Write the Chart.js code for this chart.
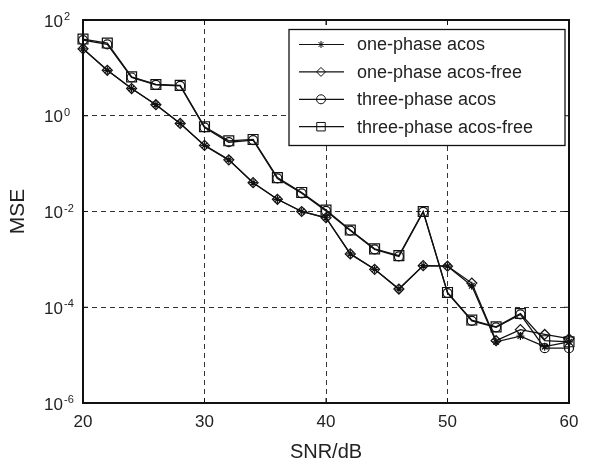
<!DOCTYPE html>
<html>
<head>
<meta charset="utf-8">
<script src="https://cdn.jsdelivr.net/npm/chart.js@4.4.1/dist/chart.umd.min.js"></script>
<style>
  html, body { margin: 0; padding: 0; background: #fff; }
  #wrap { width: 589px; height: 466px; }
</style>
</head>
<body>
<div id="wrap"><canvas id="mseChart" width="589" height="466"></canvas></div>
<script>
// SNR (dB) on the x axis
const snr = [20, 22, 24, 26, 28, 30, 32, 34, 36, 38, 40, 42, 44, 46, 48, 50, 52, 54, 56, 58, 60];

// MSE values
const onePhaseAcos = [25, 8.9, 3.7, 1.7, 0.69, 0.24, 0.12, 0.040, 0.018, 0.0100, 0.0074, 0.0013, 0.00062, 0.00024, 0.00074, 0.00072, 0.00028, 1.9e-5, 2.5e-5, 1.5e-5, 1.9e-5];
const onePhaseAcosFree = [25, 8.9, 3.7, 1.7, 0.69, 0.24, 0.12, 0.040, 0.018, 0.0100, 0.0074, 0.0013, 0.00062, 0.00024, 0.00074, 0.00072, 0.00032, 2.0e-5, 3.4e-5, 2.7e-5, 2.2e-5];
const threePhaseAcos = [38, 31, 6.3, 4.4, 4.2, 0.57, 0.28, 0.31, 0.049, 0.024, 0.0103, 0.0040, 0.00162, 0.00115, 0.0098, 0.000198, 5.2e-5, 3.8e-5, 7.1e-5, 1.4e-5, 1.4e-5];
const threePhaseAcosFree = [40, 33, 6.5, 4.5, 4.3, 0.59, 0.30, 0.32, 0.051, 0.025, 0.0107, 0.0041, 0.00166, 0.0012, 0.0100, 0.000204, 5.4e-5, 3.9e-5, 7.4e-5, 2.0e-5, 1.9e-5];

// y ticks (decades) and their exponents
const yTicks = [1e-6, 1e-4, 1e-2, 1, 1e2];
const yTickExp = ['-6', '-4', '-2', '0', '2'];

const FONT = '"Liberation Sans", Arial, Helvetica, sans-serif';
const INK = '#111';

function series(label, values, style, radius) {
    return {
        label: label,
        data: snr.map((x, i) => ({ x: x, y: values[i] })),
        borderColor: INK,
        borderWidth: 1.3,
        backgroundColor: 'rgba(0,0,0,0)',
        pointStyle: style,
        pointRadius: radius,
        pointBorderColor: INK,
        pointBorderWidth: 1.2,
        pointBackgroundColor: 'rgba(0,0,0,0)',
        tension: 0,
        fill: false,
        clip: false
    };
}

const datasets = [
    series('one-phase acos', onePhaseAcos, 'star', 4),
    series('one-phase acos-free', onePhaseAcosFree, 'rectRot', 5),
    series('three-phase acos', threePhaseAcos, 'circle', 4.5),
    series('three-phase acos-free', threePhaseAcosFree, 'rect', 7)
];

// frame, inward ticks, y labels with superscripts, legend box
const decorPlugin = {
    id: 'decor',
    beforeDatasetsDraw(chart) {
        const ctx = chart.ctx;
        const a = chart.chartArea;
        const xs = chart.scales.x;
        const ys = chart.scales.y;

        ctx.save();
        ctx.strokeStyle = INK;
        ctx.lineWidth = 2;
        ctx.setLineDash([]);
        ctx.strokeRect(a.left, a.top, a.right - a.left, a.bottom - a.top);

        ctx.lineWidth = 1;
        const tl = 5;
        xs.ticks.forEach(t => {
            const px = xs.getPixelForValue(t.value);
            ctx.beginPath();
            ctx.moveTo(px, a.bottom); ctx.lineTo(px, a.bottom - tl);
            ctx.moveTo(px, a.top); ctx.lineTo(px, a.top + tl);
            ctx.stroke();
        });
        yTicks.forEach(v => {
            const py = ys.getPixelForValue(v);
            ctx.beginPath();
            ctx.moveTo(a.left, py); ctx.lineTo(a.left + tl, py);
            ctx.moveTo(a.right, py); ctx.lineTo(a.right - tl, py);
            ctx.stroke();
        });

        // y tick labels 10^n
        ctx.fillStyle = '#222';
        ctx.textBaseline = 'middle';
        yTicks.forEach((v, i) => {
            const py = ys.getPixelForValue(v);
            ctx.font = '17px ' + FONT;
            ctx.textAlign = 'right';
            ctx.fillText('10', a.left - 20, py + 2);
            ctx.font = '11px ' + FONT;
            ctx.textAlign = 'left';
            ctx.fillText(yTickExp[i], a.left - 19, py - 3);
        });
        ctx.restore();
    },
    afterDatasetsDraw(chart) {
        const ctx = chart.ctx;
        const a = chart.chartArea;

        // legend
        ctx.save();
        const bx = a.right - 280, by = a.top + 9.5, bw = 276, bh = 116;
        ctx.fillStyle = '#fff';
        ctx.fillRect(bx, by, bw, bh);
        ctx.strokeStyle = INK;
        ctx.lineWidth = 1.3;
        ctx.strokeRect(bx, by, bw, bh);

        chart.data.datasets.forEach((ds, i) => {
            const ry = by + 15 + i * 27.4;
            ctx.strokeStyle = INK;
            ctx.lineWidth = 1.2;
            ctx.beginPath();
            ctx.moveTo(bx + 10, ry);
            ctx.lineTo(bx + 55, ry);
            ctx.stroke();
            ctx.lineWidth = 1;
            ctx.fillStyle = 'rgba(0,0,0,0)';
            const r = ds.pointStyle === 'rect' ? 6 : (ds.pointStyle === 'star' ? 3.5 : 4.5);
            Chart.helpers.drawPoint(ctx, { pointStyle: ds.pointStyle, rotation: 0, radius: r, borderWidth: 1 }, bx + 32, ry);
            ctx.fillStyle = '#222';
            ctx.font = '18px ' + FONT;
            ctx.textAlign = 'left';
            ctx.textBaseline = 'middle';
            ctx.fillText(ds.label, bx + 68, ry + 1);
        });
        ctx.restore();
    }
};

new Chart(document.getElementById('mseChart').getContext('2d'), {
    type: 'line',
    data: { datasets: datasets },
    options: {
        responsive: false,
        animation: false,
        layout: { padding: { left: 0, right: 20, top: 20, bottom: 0 } },
        plugins: {
            legend: { display: false },
            tooltip: { enabled: false }
        },
        scales: {
            x: {
                type: 'linear',
                min: 20,
                max: 60,
                ticks: {
                    stepSize: 10,
                    padding: 9,
                    color: '#222',
                    font: { family: FONT, size: 17 }
                },
                grid: { color: '#333', lineWidth: 1, drawTicks: false },
                border: { display: false, dash: [5, 4] },
                title: {
                    display: true,
                    text: 'SNR/dB',
                    color: '#222',
                    font: { family: FONT, size: 20 },
                    padding: { top: 0, bottom: 2 }
                },
                afterFit: s => { s.height = 63; }
            },
            y: {
                type: 'logarithmic',
                min: 1e-6,
                max: 1e2,
                afterBuildTicks: s => { s.ticks = yTicks.map(v => ({ value: v })); },
                ticks: { display: false },
                grid: { color: '#333', lineWidth: 1, drawTicks: false },
                border: { display: false, dash: [5, 4] },
                title: {
                    display: true,
                    text: 'MSE',
                    color: '#222',
                    font: { family: FONT, size: 21 },
                    padding: { top: 6, bottom: 0 }
                },
                afterFit: s => { s.width = 83; }
            }
        }
    },
    plugins: [decorPlugin]
});
</script>
</body>
</html>
